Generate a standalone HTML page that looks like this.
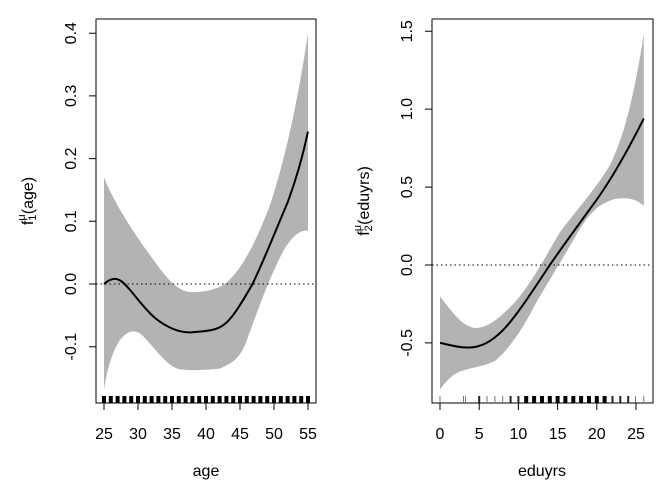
<!DOCTYPE html>
<html><head><meta charset="utf-8"><style>
body{margin:0;background:#fff}
svg{display:block;font-family:"Liberation Sans",Arial,sans-serif}
</style></head><body>
<svg width="672" height="480" viewBox="0 0 672 480" xmlns="http://www.w3.org/2000/svg">
<!-- LEFT PANEL -->
<path fill="#b3b3b3" d="M104,177.4 C115,205 135,235 155,262 C170,283 180,292 192.4,292.2 C205,292 215,290 225,284 C240,272 255,245 270,205 C285,160 298,100 308,33.2 L308,230.7 C300,230 294,235 285,248 C270,275 258,310 245,345 C238,360 232,363 219.6,368.6 C205,370 190,371 178,369 C165,364 155,348 142,335 C135,329 128,330 120,340 C112,352 107,370 104,389.3 Z"/>
<line x1="96" y1="284" x2="316" y2="284" stroke="#000" stroke-width="1" stroke-dasharray="1.5,3"/>
<path fill="none" stroke="#000" stroke-width="2" d="M104,284 C110,279 115,277 121,281 C130,287 140,305 155,318 C170,330 182,333 192.4,332.3 C205,331 214,331 222,326 C232,320 242,302 252,285 C262,265 275,232 287.6,202.5 C296,180 302,160 308,131.6"/>
<rect x="96" y="19" width="220" height="384" fill="none" stroke="#000" stroke-width="1"/>
<g stroke="#000" stroke-width="4">
<path d="M104,396V403M110.8,396V403M117.6,396V403M124.4,396V403M131.2,396V403M138,396V403M144.8,396V403M151.6,396V403M158.4,396V403M165.2,396V403M172,396V403M178.8,396V403M185.6,396V403M192.4,396V403M199.2,396V403M206,396V403M212.8,396V403M219.6,396V403M226.4,396V403M233.2,396V403M240,396V403M246.8,396V403M253.6,396V403M260.4,396V403M267.2,396V403M274,396V403M280.8,396V403M287.6,396V403M294.4,396V403M301.2,396V403M308,396V403"/>
</g>
<g stroke="#000" stroke-width="1">
<path d="M104,403V410M138,403V410M172,403V410M206,403V410M240,403V410M274,403V410M308,403V410"/>
<path d="M96,33.2H89M96,95.9H89M96,158.6H89M96,221.3H89M96,284H89M96,346.7H89"/>
</g>
<g font-size="16" text-anchor="middle" fill="#000">
<text x="104" y="439">25</text><text x="138" y="439">30</text><text x="172" y="439">35</text><text x="206" y="439">40</text><text x="240" y="439">45</text><text x="274" y="439">50</text><text x="308" y="439">55</text>
<text x="206" y="476">age</text>
<g transform="translate(76,0)">
<text transform="translate(0,33.2) rotate(-90)">0.4</text>
<text transform="translate(0,95.9) rotate(-90)">0.3</text>
<text transform="translate(0,158.6) rotate(-90)">0.2</text>
<text transform="translate(0,221.3) rotate(-90)">0.1</text>
<text transform="translate(0,284) rotate(-90)">0.0</text>
<text transform="translate(0,346.7) rotate(-90)">-0.1</text>
</g>
<text transform="translate(33,201) rotate(-90)">f<tspan font-size="11" dy="3">1</tspan><tspan font-size="11" dx="-6" dy="-11">μ</tspan><tspan dy="8">(age)</tspan></text>
</g>

<!-- RIGHT PANEL -->
<path fill="#b3b3b3" d="M440,296.2 C452,312 462,326 475,328 C488,328 500,318 515,302 C530,285 545,258 560,232 C575,212 595,190 610,165 C625,135 635,90 643.8,34.4 L643.8,205.8 C636,199 628,197 615,199 C600,203 590,212 578,232 C565,255 548,282 535,305 C522,330 510,348 495,361 C480,368 465,368 455,374 C448,379 443,385 440,389.6 Z"/>
<line x1="432" y1="265" x2="653" y2="265" stroke="#000" stroke-width="1" stroke-dasharray="1.5,3"/>
<path fill="none" stroke="#000" stroke-width="2" d="M440,342.9 C450,345 460,348 470,347.5 C480,347 490,343 502.7,330.4 C515,318 530,295 549.8,265 C565,243 582,220 596.8,199.6 C612,178 628,150 643.8,118.5"/>
<rect x="432" y="19" width="221" height="384" fill="none" stroke="#000" stroke-width="1"/>
<g stroke="#777" stroke-width="1">
<path d="M440,396V403M463.5,396V403M465.5,396V403M487,396V403M494.9,396V403M502.7,396V403M635.5,396V403M643.8,396V403"/>
</g>
<g stroke="#222" stroke-width="2">
<path d="M479.2,396V403M510.6,396V403M518.4,396V403M612.5,396V403M620.3,396V403M628.2,396V403"/>
</g>
<g stroke="#000" stroke-width="4">
<path d="M526.2,396V403M534.1,396V403M542,396V403M549.8,396V403M557.6,396V403M565.4,396V403M573.3,396V403M581.1,396V403M589,396V403M596.8,396V403M604.6,396V403"/>
</g>
<g stroke="#000" stroke-width="1">
<path d="M440,403V410M479.2,403V410M518.4,403V410M557.6,403V410M596.8,403V410M636,403V410"/>
<path d="M432,31.3H425M432,109.1H425M432,187.1H425M432,265H425M432,342.9H425"/>
</g>
<g font-size="16" text-anchor="middle" fill="#000">
<text x="440" y="439">0</text><text x="479.2" y="439">5</text><text x="518.4" y="439">10</text><text x="557.6" y="439">15</text><text x="596.8" y="439">20</text><text x="636" y="439">25</text>
<text x="542" y="476">eduyrs</text>
<g transform="translate(412,0)">
<text transform="translate(0,31.3) rotate(-90)">1.5</text>
<text transform="translate(0,109.1) rotate(-90)">1.0</text>
<text transform="translate(0,187.1) rotate(-90)">0.5</text>
<text transform="translate(0,265) rotate(-90)">0.0</text>
<text transform="translate(0,342.9) rotate(-90)">-0.5</text>
</g>
<text transform="translate(369,201) rotate(-90)">f<tspan font-size="11" dy="3">2</tspan><tspan font-size="11" dx="-6" dy="-11">μ</tspan><tspan dy="8">(eduyrs)</tspan></text>
</g>
</svg>
</body></html>
